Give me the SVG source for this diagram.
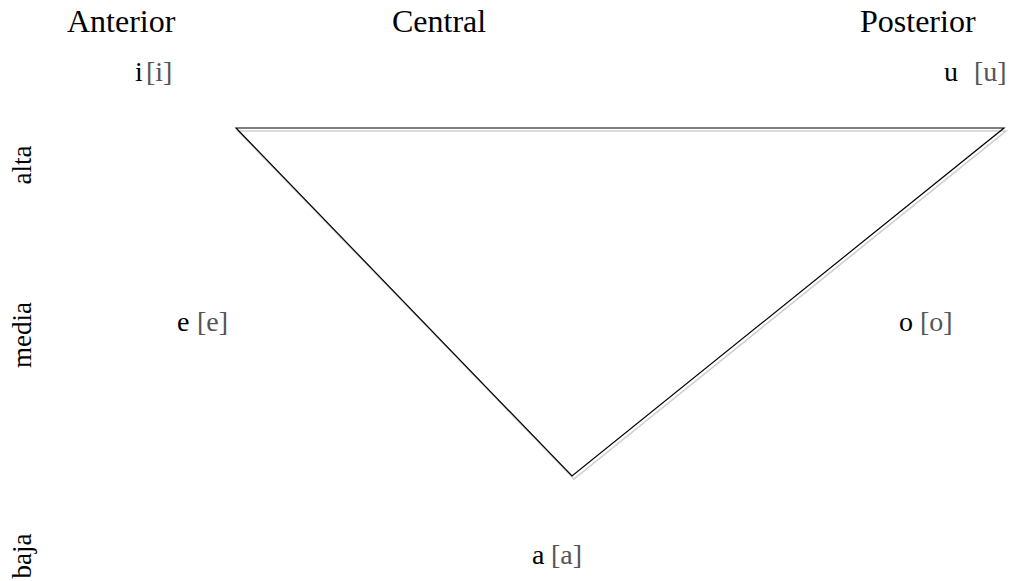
<svg xmlns="http://www.w3.org/2000/svg" width="1030" height="581" viewBox="0 0 1030 581">
<style>
text{font-family:"Liberation Serif","Times New Roman",serif;font-size:28px;fill:#000}
.hdr{font-size:32px}
.lvl{font-size:27px}
.ipa{fill:#555}
</style>
<rect width="1030" height="581" fill="#fff"/>
<g id="connectors">
<polygon points="238,131 1006,131 574,479" fill="none" stroke="#cfcfcf" stroke-width="1.6"/>
<polygon points="236,128 1004,128 572,476" fill="none" stroke="#000" stroke-width="1.2"/>
</g>
<g id="headers">
<text class="hdr" x="67" y="32">Anterior</text>
<text class="hdr" x="392" y="32">Central</text>
<text class="hdr" x="860" y="32">Posterior</text>
</g>
<g id="levels">
<text class="lvl" transform="translate(31,165) rotate(-90)" text-anchor="middle">alta</text>
<text class="lvl" transform="translate(31,335) rotate(-90)" text-anchor="middle">media</text>
<text class="lvl" transform="translate(31,556) rotate(-90)" text-anchor="middle">baja</text>
</g>
<g id="vowel-i"><text x="135" y="81">i<tspan class="ipa" x="146">[i]</tspan></text></g>
<g id="vowel-u"><text x="944" y="81">u <tspan class="ipa" x="974">[u]</tspan></text></g>
<g id="vowel-e"><text x="177" y="331">e <tspan class="ipa" x="197">[e]</tspan></text></g>
<g id="vowel-o"><text x="899" y="331">o <tspan class="ipa" x="920">[o]</tspan></text></g>
<g id="vowel-a"><text x="532" y="564">a <tspan class="ipa" x="551">[a]</tspan></text></g>
</svg>
